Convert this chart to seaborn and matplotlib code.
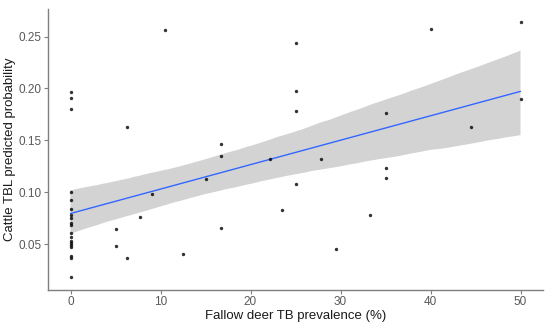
import numpy as np
import pandas as pd
import seaborn as sns
import matplotlib
matplotlib.use("Agg")
import matplotlib.pyplot as plt

prevalence = [0, 0, 0, 0, 0, 0, 0, 0, 0, 0, 0, 0, 0, 0, 0, 0, 0, 0, 0,
              5.0, 5.0, 6.3, 6.3, 7.7, 9.1, 10.5, 12.5, 15.0, 16.7, 16.7, 16.7,
              22.2, 23.5, 25.1, 25.1, 25.1, 25.1, 27.8, 29.5, 33.3,
              35.0, 35.0, 35.0, 40.0, 44.5, 50.0, 50.0]
probability = [0.197, 0.191, 0.180, 0.100, 0.0925, 0.0835, 0.078, 0.0748, 0.0706,
               0.0687, 0.0603, 0.0571, 0.0532, 0.0506, 0.0487, 0.0471, 0.0384,
               0.0362, 0.0181,
               0.0648, 0.0478, 0.1633, 0.0368, 0.0758, 0.0986, 0.2565, 0.0403,
               0.1125, 0.1353, 0.0652, 0.1466,
               0.1324, 0.0829, 0.1083, 0.2435, 0.1975, 0.1785, 0.1318, 0.0452, 0.078,
               0.1759, 0.1231, 0.1138, 0.2577, 0.1633, 0.2642, 0.1894]

x_ticks = [0, 10, 20, 30, 40, 50]
y_ticks = [0.05, 0.10, 0.15, 0.20, 0.25]

df = pd.DataFrame({"prev": prevalence, "prob": probability})

sns.set_style("white")
plt.rcParams["font.family"] = ["Liberation Sans", "DejaVu Sans"]

fig = plt.figure(figsize=(5.5, 3.23), dpi=100)
ax = fig.add_axes([48 / 550, 33 / 323, (543 - 48) / 550, (290 - 9) / 323])

sns.regplot(data=df, x="prev", y="prob", ax=ax, ci=95, seed=3, n_boot=2000,
            scatter_kws=dict(s=6, color="black", linewidths=0, zorder=3),
            line_kws=dict(color="#3366FF", lw=1.0, zorder=2))
for poly in ax.collections[1:]:
    poly.set_facecolor("#d3d3d3")
    poly.set_alpha(1.0)
    poly.set_edgecolor("none")

ax.set_xlim(-2.5, 52.5)
ax.set_ylim(0.0058, 0.2765)
ax.set_xticks(x_ticks)
ax.set_xticklabels([str(t) for t in x_ticks])
ax.set_yticks(y_ticks)
ax.set_yticklabels([f"{t:.2f}" for t in y_ticks])

for s in ["top", "right"]:
    ax.spines[s].set_visible(False)
for s in ["left", "bottom"]:
    ax.spines[s].set_color("#7f7f7f")
    ax.spines[s].set_linewidth(1.0)
ax.tick_params(axis="both", length=3, width=0.8, color="#7f7f7f",
               labelcolor="#595959", labelsize=8.5, pad=1.5, left=True, bottom=True)

ax.set_xlabel("Fallow deer TB prevalence (%)", fontsize=9.5, color="#1a1a1a", labelpad=1)
ax.set_ylabel("Cattle TBL predicted probability", fontsize=9.5, color="#1a1a1a", labelpad=2)

fig.savefig("out.png", dpi=100)
